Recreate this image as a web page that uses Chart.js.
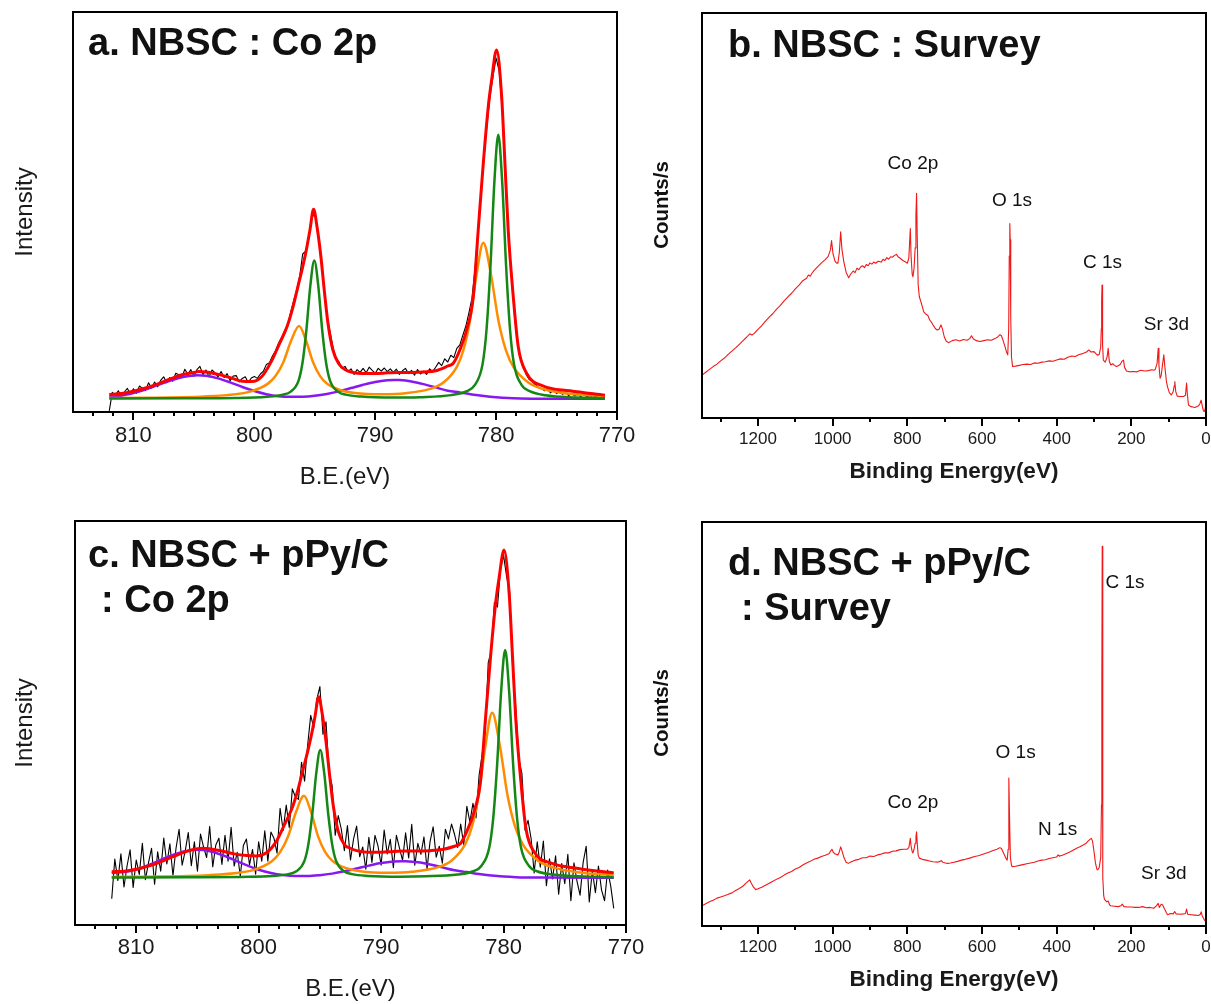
<!DOCTYPE html>
<html><head><meta charset="utf-8">
<script src="https://cdn.jsdelivr.net/npm/chart.js@4.4.0/dist/chart.umd.min.js"></script>
<style>
html,body{margin:0;padding:0;background:#fff;}
#wrap{position:relative;width:1211px;height:1004px;overflow:hidden;background:#fff;}
canvas{position:absolute;}
</style></head><body>
<div id="wrap">
<canvas id="cA" width="640" height="500" style="left:0px;top:0px"></canvas>
<canvas id="cB" width="571" height="500" style="left:640px;top:0px"></canvas>
<canvas id="cD" width="571" height="504" style="left:640px;top:500px"></canvas>
<canvas id="cC" width="660" height="504" style="left:0px;top:500px"></canvas>
</div>
<script>
// ---------- tick labels ----------
const tickCo = [810, 800, 790, 780, 770];
const minorCo = [813.33, 811.67, 808.33, 806.67, 805, 803.33, 801.67, 798.33, 796.67, 795, 793.33, 791.67, 788.33, 786.67, 785, 783.33, 781.67, 778.33, 776.67, 775, 773.33, 771.67];
const tickSurvey = [1200, 1000, 800, 600, 400, 200, 0];
const minorSurvey = [1300, 1100, 900, 700, 500, 300, 100];

// ---------- panel a : NBSC Co 2p ----------
const rawStart = 812, rawStep = 0.25;
const rawA = [0.3,4.9,4.2,5.3,3.9,5.0,5.9,4.5,5.8,4.7,6.5,5.9,5.4,7.3,6.0,7.5,6.3,7.9,8.8,7.3,8.6,7.7,9.7,9.3,8.6,10.7,9.4,10.6,8.9,10.6,11.4,9.3,10.5,8.8,10.5,9.8,8.8,10.1,8.6,9.6,7.8,9.0,9.1,7.5,8.4,8.8,7.4,8.5,8.9,8.4,9.5,10.2,11.9,12.3,14.0,15.3,17.2,18.6,20.3,21.5,24.9,27.8,30.4,33.9,39.5,40.2,43.2,48.6,49.6,45.5,38.4,31.9,24.2,20.3,16.3,13.2,12.6,10.9,11.4,10.1,10.8,9.4,10.6,9.9,10.9,9.8,11.2,10.4,9.7,10.9,10.2,11.0,10.1,10.8,9.9,10.7,9.4,10.3,10.9,9.6,10.4,9.2,10.6,9.5,10.2,9.4,10.8,10.1,11.2,12.4,11.6,13.3,12.5,14.2,13.6,15.9,16.8,19.2,21.5,24.8,28.4,35.6,45.2,54.9,63.5,71.8,79.0,84.0,88.5,85.2,76.1,60.0,46.3,35.0,25.1,17.5,13.9,11.4,9.3,8.1,7.6,6.8,6.2,5.9,5.3,5.8,4.8,5.5,4.6,5.2,4.4,4.9,4.1,4.7,4.0,4.5,3.8,4.6,3.7,4.1,3.6,4.0,3.5,3.9,3.7];
const redE = [812,811,810,809,808.2,807,806,805,804.6,804,803,802,801,800.2,799.4,798.6,797.9,797.3,796.8,796.4,796.0,795.7,795.4,795.1,794.8,794.5,794.2,793.9,793.5,793.0,792.5,792,791,790,789,788,787,786,785,784,783.54,783.0,782.44,781.89,781.48,781.06,780.65,780.37,779.96,779.54,779.27,779.0,778.58,778.17,777.48,776.1,773.9,771];
const redA = [4.4,4.6,5.2,6.0,6.8,8.2,9.3,9.9,10.1,10.0,9.4,8.6,7.7,7.6,8.8,12.6,17.2,21.3,26.3,31.3,36.3,40.5,45.5,50.7,46.0,39.0,30.0,22.0,15.5,12.0,10.6,10.0,9.6,9.6,9.8,9.9,9.9,10.0,10.3,11.5,12.2,15.5,20.5,28.8,45.5,62.2,76.3,83.0,90.5,78.8,62.2,45.5,28.8,16.3,9.7,6.5,5.3,4.2];
const greenAE = [812,806,801.54,798.94,797.64,796.99,796.34,796.015,795.69,795.365,795.04,794.715,794.39,794.065,793.74,793.09,792.44,791.14,788.54,786.32,783.72,782.42,781.77,781.12,780.795,780.47,780.145,779.82,779.495,779.17,778.845,778.52,777.87,777.22,775.92,773.32,771];
const greenA = [3.35,3.42,3.5,3.8,4.32,5.08,7.85,12.3,20.6,31.65,37.85,31.65,20.6,12.3,7.85,5.1,4.35,3.85,3.6,3.7,4.22,5.23,6.69,11.97,20.5,36.3,57.4,69.3,57.4,36.3,20.5,11.95,6.67,5.21,4.19,3.63,3.45];
const orangeAE = [812,809.3,804.1,801.5,800.2,798.9,798.25,797.6,796.95,796.3,795.725,795.15,794.575,794.0,792.85,791.7,789.4,787.5,785.46,784.36,783.26,782.71,782.16,781.61,781.06,780.435,779.81,779.185,778.56,777.31,776.06,773.56,771];
const orangeA = [3.5,3.55,3.89,4.47,5.22,7.03,8.98,12.45,17.86,21.47,17.88,12.49,9.04,7.11,5.44,4.77,4.45,4.7,5.79,7.36,11.23,15.44,22.89,34.53,42.33,34.53,22.87,15.42,11.2,7.3,5.69,4.44,3.98];
const purpleAE = [812,811,810,809,808,807,806,805,804.7,804,803,802,801,800,799,798,797,796,795,794,793,792,791,790,789,788.4,788,787,786,785,784,783,782,781,780,779,778,776,774,771];
const purpleA = [3.8,4.1,4.75,5.6,6.7,7.8,8.7,9.15,9.2,9.05,8.4,7.4,6.25,5.25,4.45,3.95,3.8,3.82,4.06,4.52,5.15,5.98,6.81,7.51,7.93,8.0,7.97,7.62,6.96,6.15,5.33,4.9,4.4,4.0,3.7,3.5,3.4,3.33,3.32,3.3];

// ---------- panel c : NBSC + pPy/C Co 2p ----------
const rawC = [6.5,16.3,11.0,17.6,9.4,14.6,18.6,9.3,16.1,12.5,20.2,11.2,15.4,19.0,10.1,18.1,13.3,21.5,15.1,20.1,12.2,19.0,23.7,14.8,18.3,22.9,14.7,20.6,13.3,22.5,19.3,16.7,24.4,14.4,19.8,21.5,15.0,22.2,15.8,24.2,14.6,18.0,12.0,19.7,21.3,14.9,18.7,12.6,20.6,15.8,23.3,15.8,23.0,21.5,17.8,28.9,23.4,29.7,24.1,33.7,31.7,31.1,40.3,35.6,44.5,51.9,48.8,55.9,59.0,47.2,50.3,37.8,34.5,22.2,27.1,23.7,18.4,24.6,16.1,21.3,24.5,16.9,19.3,13.8,21.7,15.5,22.2,19.5,14.8,23.5,17.6,21.2,14.2,22.2,19.0,16.0,22.8,16.6,24.9,14.8,20.2,17.5,21.8,13.9,20.7,24.3,16.8,19.5,15.3,23.7,21.3,25.0,22.4,19.2,25.0,19.7,29.4,25.5,30.1,26.5,37.0,42.2,47.8,65.0,67.8,79.8,78.7,88.0,91.5,86.2,82.5,63.0,53.5,41.2,37.5,23.5,25.9,21.4,12.9,20.6,14.3,20.8,9.7,16.4,11.4,17.1,7.6,15.2,10.2,17.5,6.0,15.4,10.8,7.4,15.5,19.5,5.7,13.5,8.0,14.6,8.7,6.0,13.6,9.7,4.1];
const redC = [13.2,13.3,13.8,14.6,15.4,16.9,18.1,18.9,19.0,18.9,18.3,17.6,17.2,17.1,17.8,20.5,24.8,28.7,33.4,38.2,42.9,46.9,51.6,56.5,52.1,45.4,36.9,29.4,23.2,19.9,19.0,18.4,18.0,18.0,18.2,18.3,18.3,18.4,18.7,19.5,20.1,23.2,27.7,35.4,50.9,66.5,79.6,85.8,92.8,81.9,66.5,50.9,35.4,23.8,18.0,15.3,14.0,12.9];
const greenCE = [812,806,801.47,798.87,797.57,796.92,796.27,795.945,795.62,795.295,794.97,794.645,794.32,793.995,793.67,793.02,792.37,791.07,788.47,786.37,783.77,782.47,781.82,781.17,780.845,780.52,780.195,779.87,779.545,779.22,778.895,778.57,777.92,777.27,775.97,773.37,771];
const greenC = [11.75,11.8,11.9,12.1,12.6,13.3,15.8,19.9,27.5,37.6,43.3,37.6,27.5,19.9,15.8,13.3,12.6,12.15,11.95,12.05,12.5,13.3,14.6,19.1,26.4,39.9,57.9,68.1,57.9,39.9,26.4,19.1,14.6,13.3,12.5,12.0,11.85];
const orangeCE = [812,809.3,804.1,801.5,800.2,798.9,798.25,797.6,796.95,796.3,795.725,795.15,794.575,794.0,792.85,791.7,789.4,787.5,785.33,784.23,783.13,782.58,782.03,781.48,780.93,780.305,779.68,779.055,778.43,777.18,775.93,773.43,771];
const orangeC = [11.9,11.97,12.34,12.99,13.83,15.85,18.03,21.9,27.96,31.97,27.98,21.94,18.09,15.93,14.06,13.31,12.93,13.18,14.31,15.96,20.0,24.35,32.2,44.44,52.54,44.44,32.18,24.33,19.96,15.89,14.2,12.9,12.4];
const purpleCE = [812,811,810,809,808,807,806,805,804,803,802,801,800,799,798,797,796,795,794,793,792,791,790,789,788.3,788,787,786,785,784,783,782,781,780,779,777,771];
const purpleC = [12.9,13.1,13.7,14.8,16.1,17.35,18.26,18.6,18.26,17.35,16.1,14.8,13.68,12.87,12.36,12.13,12.13,12.34,12.72,13.28,13.97,14.69,15.32,15.71,15.8,15.78,15.51,14.96,14.26,13.54,13.1,12.6,12.25,12.0,11.85,11.75,11.7];

// ---------- panel b : NBSC survey [eV, counts] ----------
const surveyB = [[1350,10.6],[1340,11.3],[1330,12.0],[1320,12.7],[1310,13.3],[1300,14.1],[1290,14.8],[1280,15.7],[1270,16.5],[1260,17.3],[1250,18.2],[1240,19.1],[1230,20.0],[1222,20.8],[1216,20.5],[1210,20.9],[1200,21.9],[1190,22.8],[1180,23.9],[1170,24.9],[1160,25.8],[1150,26.9],[1140,27.8],[1130,28.9],[1120,29.9],[1110,30.8],[1100,31.9],[1090,32.8],[1080,33.9],[1070,34.5],[1065,35.3],[1060,35.0],[1055,35.8],[1050,36.4],[1040,37.4],[1030,38.3],[1020,39.1],[1012,39.9],[1006,41.5],[1003,43.8],[999,40.5],[994,38.8],[990,38.3],[986,38.2],[982,41.0],[978.6,46.0],[975,41.5],[970,38.5],[964,36.0],[957,34.6],[952,35.5],[945,36.3],[940,35.9],[935,37.0],[930,36.6],[925,37.3],[920,37.6],[915,37.1],[910,37.9],[905,37.6],[900,38.3],[895,38.0],[890,38.5],[885,38.2],[878,38.7],[870,38.5],[865,39.2],[860,38.9],[855,39.6],[850,39.2],[845,39.8],[840,39.7],[835,40.1],[829,40.4],[825,39.8],[820,39.5],[812,38.9],[806,38.6],[800,38.2],[796,39.5],[793.5,44.0],[792,46.8],[790,40.0],[787,35.5],[785,34.9],[782,37.0],[779,42.0],[777,50.0],[775.3,55.5],[773.5,45.0],[771,33.0],[768,30.0],[762,28.2],[756,26.2],[750,25.6],[745,25.3],[740,24.2],[735,23.6],[730,22.8],[725,22.1],[720,21.7],[715,21.9],[710,23.0],[706,22.0],[701,20.0],[696,19.0],[690,18.6],[685,18.8],[680,19.1],[670,19.3],[660,19.0],[650,19.4],[640,19.2],[633,19.6],[628,20.3],[623,19.5],[615,19.1],[605,18.9],[595,19.1],[585,19.3],[575,19.2],[565,19.6],[558,20.0],[552,20.6],[548,20.3],[543,19.0],[538,17.5],[534,16.2],[531,15.6],[528.5,22.0],[527,40.0],[525.5,48.0],[524.5,44.0],[523,25.0],[521,15.0],[518,12.7],[510,12.8],[500,13.0],[490,13.2],[480,13.3],[470,13.2],[460,13.6],[450,13.5],[440,13.8],[430,13.9],[420,14.1],[410,14.0],[400,14.3],[390,14.6],[380,14.5],[370,15.0],[360,15.3],[350,15.2],[340,15.7],[330,15.9],[320,16.3],[314,16.8],[308,16.3],[300,16.4],[295,15.9],[290,15.5],[286,15.7],[282,17.5],[280.5,22.0],[279.5,29.0],[278.5,32.8],[277.5,27.0],[276.5,18.0],[275,14.3],[270,13.8],[265,15.0],[262,17.2],[259,14.0],[255,13.1],[250,13.4],[245,13.0],[240,12.7],[235,12.9],[230,13.2],[225,14.0],[221,14.3],[218,12.5],[213,11.6],[205,11.4],[195,11.5],[185,11.4],[175,11.8],[165,11.6],[155,11.7],[145,11.9],[140,11.8],[136,12.0],[131,13.5],[128,17.2],[126,13.0],[123,9.8],[120,10.5],[116,13.5],[113,15.6],[110,12.5],[106,9.0],[103,7.7],[98,6.2],[93,5.7],[88,6.5],[85,8.0],[83.6,9.0],[81,6.5],[77,5.4],[70,5.3],[60,5.3],[55,5.6],[52,8.6],[50,6.0],[47,3.2],[40,2.8],[35,2.7],[30,2.6],[25,2.8],[20,3.0],[16,3.6],[13,4.4],[10,3.0],[7,1.8],[4,1.6],[1,2.8]];

// ---------- panel d : NBSC + pPy/C survey [eV, counts] ----------
const surveyD = [[1350,5.0],[1340,5.5],[1330,6.0],[1320,6.4],[1310,6.9],[1300,7.2],[1290,7.5],[1281,7.8],[1270,8.2],[1260,8.8],[1250,9.3],[1240,9.9],[1232,10.6],[1226,11.1],[1222,11.4],[1218,10.6],[1212,9.6],[1206,9.0],[1200,9.2],[1190,9.6],[1180,10.1],[1170,10.6],[1160,11.1],[1150,11.6],[1140,12.0],[1130,12.6],[1120,13.1],[1110,13.5],[1100,14.1],[1090,14.5],[1080,15.1],[1070,15.6],[1060,16.0],[1050,16.5],[1040,16.8],[1030,17.2],[1020,17.5],[1010,17.9],[1005,18.6],[1002,19.0],[998,18.2],[993,17.8],[986,17.6],[982,18.4],[978.6,19.6],[975,18.6],[970,17.0],[964,15.8],[958,15.5],[950,15.9],[940,16.3],[930,16.5],[920,16.9],[910,16.9],[900,17.3],[890,17.2],[880,17.6],[870,17.8],[860,18.1],[850,18.1],[840,18.5],[830,18.6],[820,18.9],[810,19.0],[800,19.0],[796,19.4],[793.5,20.8],[792,21.7],[790,19.8],[787,18.4],[785,18.1],[782,19.0],[779,20.5],[777,22.0],[775.3,23.3],[773.5,20.5],[771,17.6],[768,16.8],[760,16.5],[750,16.3],[740,16.1],[731,15.9],[720,15.8],[712,16.0],[709,16.2],[705,15.8],[698,15.6],[692,15.5],[685,15.6],[675,15.8],[665,16.0],[655,16.3],[645,16.5],[633,16.8],[620,17.2],[610,17.4],[600,17.7],[590,18.0],[580,18.3],[570,18.7],[560,19.0],[552,19.4],[548,19.2],[543,18.2],[538,17.2],[535,16.6],[532.5,16.3],[530,19.0],[528.5,30.0],[527.7,36.6],[526.5,28.0],[524,17.0],[521,15.0],[519,14.7],[510,14.8],[500,15.0],[490,15.2],[480,15.4],[470,15.6],[460,15.8],[450,16.1],[440,16.3],[430,16.4],[420,16.7],[410,16.9],[400,17.1],[396,17.6],[393,17.3],[385,17.5],[375,17.9],[365,18.3],[355,18.8],[345,19.3],[338,19.6],[330,20.0],[322,20.4],[316,21.0],[310,21.5],[307,21.7],[304,21.0],[300,18.5],[296,15.5],[292,14.0],[289.6,13.9],[286,14.5],[282,17.0],[280,30.0],[279,60.0],[278,94.0],[277,40.0],[276,12.0],[274,7.5],[272,6.6],[270,6.4],[266,6.0],[262,6.2],[258,5.2],[255,5.0],[245,4.9],[235,4.8],[228,5.0],[224,5.4],[220,4.8],[210,4.7],[200,4.7],[190,4.6],[180,4.6],[170,4.8],[160,4.5],[150,4.6],[140,4.4],[133,5.0],[128,5.6],[125,4.6],[120,5.4],[116,5.2],[112,4.4],[106,3.3],[103,2.8],[98,3.0],[93,3.1],[88,3.0],[84,3.6],[80,3.0],[70,2.9],[60,3.0],[55,3.1],[52,4.2],[49,2.9],[40,2.8],[30,2.7],[20,2.6],[15,2.9],[13,3.5],[10,2.5],[6,1.8],[3,1.3],[0,1.1]];

// ---------- helpers ----------
const FONT = "'Liberation Sans', Arial, Helvetica, sans-serif";
const COL = {red:'#ff0000', green:'rgb(20,135,20)', orange:'rgb(255,140,0)', purple:'rgb(135,25,240)', raw:'#000000', survey:'#f01818'};

function pts(E, V) { const n = Math.min(E.length, V.length); const out = []; for (let i = 0; i < n; i++) out.push({x: E[i], y: V[i]}); return out; }
function gridPts(V) { return V.map((v, i) => ({x: rawStart - i * rawStep, y: v})); }
function pairPts(P) { return P.map(p => ({x: p[0], y: p[1]})); }
function ds(data, color, width, order, smooth) {
  return {data, borderColor: color, borderWidth: width, pointRadius: 0, pointHoverRadius: 0, fill: false, order,
    tension: 0, cubicInterpolationMode: smooth ? 'monotone' : 'default', borderJoinStyle: 'round'};
}

const deco = {
  id: 'deco',
  afterDatasetsDraw(chart, args, o) {
    const ctx = chart.ctx, a = chart.chartArea, sx = chart.scales.x, sy = chart.scales.y;
    ctx.save();
    ctx.strokeStyle = '#000';
    ctx.lineWidth = 2;
    ctx.strokeRect(a.left, a.top, a.right - a.left, a.bottom - a.top);
    ctx.beginPath();
    o.major.forEach(v => { const p = Math.round(sx.getPixelForValue(v)); ctx.moveTo(p, a.bottom); ctx.lineTo(p, a.bottom + o.majorLen); });
    o.minor.forEach(v => { const p = Math.round(sx.getPixelForValue(v)); ctx.moveTo(p, a.bottom); ctx.lineTo(p, a.bottom + o.minorLen); });
    ctx.stroke();
    (o.texts || []).forEach(t => {
      ctx.fillStyle = t.color || '#111';
      ctx.font = t.font;
      ctx.textAlign = t.align || 'left';
      ctx.textBaseline = t.baseline || 'alphabetic';
      let px, py;
      if (t.mode === 'data') { px = sx.getPixelForValue(t.at[0]); py = sy.getPixelForValue(t.at[1]); }
      else if (t.mode === 'abs') { px = t.at[0]; py = t.at[1]; }
      else { px = a.left + t.at[0]; py = a.top + t.at[1]; }
      if (t.rotate) { ctx.save(); ctx.translate(px, py); ctx.rotate(t.rotate); ctx.fillText(t.text, 0, 0); ctx.restore(); }
      else ctx.fillText(t.text, px, py);
    });
    ctx.restore();
  }
};

function makeChart(id, p) {
  new Chart(document.getElementById(id), {
    type: 'line',
    data: {datasets: p.datasets},
    plugins: [deco],
    options: {
      responsive: false, animation: false, devicePixelRatio: 1,
      layout: {padding: {left: 0, top: p.T, right: p.R, bottom: 0}},
      plugins: {legend: {display: false}, tooltip: {enabled: false}, deco: p.deco},
      scales: {
        x: {
          type: 'linear', min: p.xmin, max: p.xmax, reverse: true,
          afterBuildTicks: s => { s.ticks = p.ticks.map(v => ({value: v})); },
          ticks: {font: {family: FONT, size: p.tickSize}, color: '#1a1a1a', padding: p.tickPad, maxRotation: 0, autoSkip: false, callback: v => String(v)},
          grid: {display: false, drawTicks: false}, border: {display: false},
          title: {display: true, text: p.xTitle, color: '#1a1a1a', font: {family: FONT, size: p.xTitleSize, weight: p.xTitleWeight}, padding: {top: 0, bottom: p.xTitlePad}},
          afterFit: s => { s.height = p.H; s.paddingLeft = 0; s.paddingRight = 0; }
        },
        y: {
          min: 0, max: 100,
          ticks: {display: false}, grid: {display: false, drawTicks: false}, border: {display: false},
          title: {display: !!p.yTitle, text: p.yTitle || '', color: '#1a1a1a', font: {family: FONT, size: 24}, padding: {top: p.yTitlePad || 0, bottom: 0}},
          afterFit: s => { s.width = p.L; s.paddingTop = 0; s.paddingBottom = 0; }
        }
      }
    }
  });
}

const titleFont = "bold 38px " + FONT;
const labelFont = "19px " + FONT;

// panel a
makeChart('cA', {
  T: 12, R: 23, L: 73, H: 88, xmin: 770, xmax: 815, ticks: tickCo, tickSize: 22, tickPad: 11,
  xTitle: 'B.E.(eV)', xTitleSize: 24, xTitleWeight: 'normal', xTitlePad: 8, yTitle: 'Intensity', yTitlePad: 10.6,
  datasets: [
    ds(pts(redE, redA), COL.red, 3, 0, true),
    ds(pts(greenAE, greenA), COL.green, 2.5, 1, true),
    ds(pts(orangeAE, orangeA), COL.orange, 2.5, 2, true),
    ds(pts(purpleAE, purpleA), COL.purple, 2.5, 3, true),
    ds(gridPts(rawA), COL.raw, 1.1, 4, false)
  ],
  deco: {major: tickCo, minor: minorCo, majorLen: 8, minorLen: 4,
    texts: [{text: 'a. NBSC : Co 2p', font: titleFont, at: [15, 43]}]}
});

// panel c
makeChart('cC', {
  T: 21, R: 34, L: 75, H: 79, xmin: 770, xmax: 815, ticks: tickCo, tickSize: 22, tickPad: 10,
  xTitle: 'B.E.(eV)', xTitleSize: 24, xTitleWeight: 'normal', xTitlePad: 0, yTitle: 'Intensity', yTitlePad: 10.6,
  datasets: [
    ds(pts(redE, redC), COL.red, 3, 0, true),
    ds(pts(greenCE, greenC), COL.green, 2.5, 1, true),
    ds(pts(orangeCE, orangeC), COL.orange, 2.5, 2, true),
    ds(pts(purpleCE, purpleC), COL.purple, 2.5, 3, true),
    ds(gridPts(rawC), COL.raw, 1.1, 4, false)
  ],
  deco: {major: tickCo, minor: minorCo, majorLen: 8, minorLen: 4,
    texts: [{text: 'c. NBSC + pPy/C', font: titleFont, at: [13, 46]},
            {text: ': Co 2p', font: titleFont, at: [26, 91]}]}
});

// panel b
makeChart('cB', {
  T: 13, R: 5, L: 62, H: 82, xmin: 0, xmax: 1350, ticks: tickSurvey, tickSize: 17, tickPad: 11,
  xTitle: 'Binding Energy(eV)', xTitleSize: 22.5, xTitleWeight: 'bold', xTitlePad: 14.5,
  datasets: [ds(pairPts(surveyB), COL.survey, 1.1, 0, false)],
  deco: {major: tickSurvey, minor: minorSurvey, majorLen: 8, minorLen: 4,
    texts: [{text: 'b. NBSC : Survey', font: titleFont, at: [26, 44]},
            {text: 'Counts/s', font: 'bold 20.5px ' + FONT, mode: 'abs', at: [22, 205], rotate: -Math.PI / 2, align: 'center', baseline: 'middle'},
            {text: 'Co 2p', font: labelFont, mode: 'data', at: [785, 62.7], align: 'center', baseline: 'middle'},
            {text: 'O 1s', font: labelFont, mode: 'data', at: [519.7, 53.6], align: 'center', baseline: 'middle'},
            {text: 'C 1s', font: labelFont, mode: 'data', at: [277, 38.3], align: 'center', baseline: 'middle'},
            {text: 'Sr 3d', font: labelFont, mode: 'data', at: [106, 23], align: 'center', baseline: 'middle'}]}
});

// panel d
makeChart('cD', {
  T: 22, R: 5, L: 62, H: 78, xmin: 0, xmax: 1350, ticks: tickSurvey, tickSize: 17, tickPad: 11,
  xTitle: 'Binding Energy(eV)', xTitleSize: 22.5, xTitleWeight: 'bold', xTitlePad: 10.5,
  datasets: [ds(pairPts(surveyD), COL.survey, 1.1, 0, false)],
  deco: {major: tickSurvey, minor: minorSurvey, majorLen: 8, minorLen: 4,
    texts: [{text: 'd. NBSC + pPy/C', font: titleFont, at: [26, 53]},
            {text: ': Survey', font: titleFont, at: [39, 98]},
            {text: 'Counts/s', font: 'bold 20.5px ' + FONT, mode: 'abs', at: [22, 213], rotate: -Math.PI / 2, align: 'center', baseline: 'middle'},
            {text: 'C 1s', font: labelFont, mode: 'data', at: [217, 85], align: 'center', baseline: 'middle'},
            {text: 'O 1s', font: labelFont, mode: 'data', at: [510, 42.8], align: 'center', baseline: 'middle'},
            {text: 'Co 2p', font: labelFont, mode: 'data', at: [785, 30.4], align: 'center', baseline: 'middle'},
            {text: 'N 1s', font: labelFont, mode: 'data', at: [397.5, 23.8], align: 'center', baseline: 'middle'},
            {text: 'Sr 3d', font: labelFont, mode: 'data', at: [113, 12.9], align: 'center', baseline: 'middle'}]}
});
</script>
</body></html>
